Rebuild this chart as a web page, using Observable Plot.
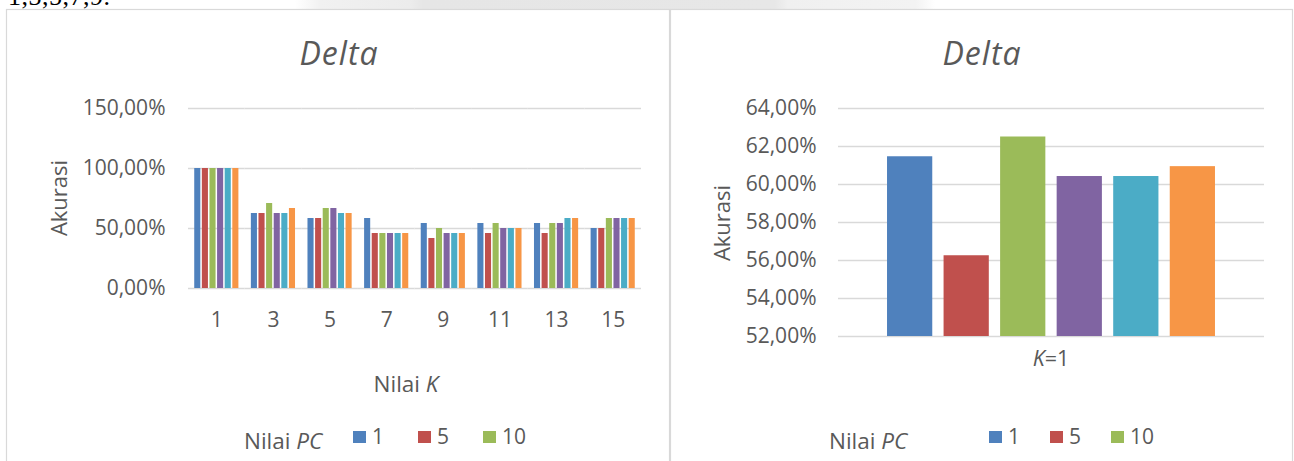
<!DOCTYPE html>
<html>
<head>
<meta charset="utf-8">
<script src="https://cdn.jsdelivr.net/npm/d3@7"></script>
<script src="https://cdn.jsdelivr.net/npm/@observablehq/plot@0.6"></script>
<style>
  html, body { margin: 0; padding: 0; background: #fff; overflow: hidden; }
  #page { position: relative; width: 1294px; height: 461px; overflow: hidden; }
  #page > svg, #page > div { position: absolute; }
</style>
</head>
<body>
<div id="page"></div>
<script>
// ---------- data ----------
const kValues = [1, 3, 5, 7, 9, 11, 13, 15];
const seriesNames = ["1", "5", "10", "15", "20", "25"];
const colors = ["#4F81BD", "#C0504D", "#9BBB59", "#8064A2", "#4BACC6", "#F79646"];

// left chart: accuracy (%) per series across K
const pc1  = [100, 62.5, 58.33, 58.33, 54.17, 54.17, 54.17, 50];
const pc5  = [100, 62.5, 58.33, 45.83, 41.67, 45.83, 45.83, 50];
const pc10 = [100, 70.83, 66.67, 45.83, 50, 54.17, 54.17, 58.33];
const pc15 = [100, 62.5, 66.67, 45.83, 45.83, 50, 54.17, 58.33];
const pc20 = [100, 62.5, 62.5, 45.83, 45.83, 50, 58.33, 58.33];
const pc25 = [100, 66.67, 62.5, 45.83, 45.83, 50, 58.33, 58.33];
const leftTicks = [0, 50, 100, 150];

// right chart: K=1
const rightValues = [61.46, 56.25, 62.5, 60.42, 60.42, 60.94];
const rightTicks = [52, 54, 56, 58, 60, 62, 64];

const legendShown = ["1", "5", "10"];

// ---------- build tables ----------
const leftSeries = [pc1, pc5, pc10, pc15, pc20, pc25];
const leftData = [];
leftSeries.forEach((vals, si) => vals.forEach((v, ki) => leftData.push({k: kValues[ki], series: seriesNames[si], value: v})));
const rightData = rightValues.map((v, i) => ({series: seriesNames[i], value: v}));

const pct = d => d.toFixed(2).replace(".", ",") + "%";
const font = "'Open Sans', sans-serif";
const ink = "#595959";
const grid = "#d9d9d9";

// ---------- left chart ----------
const L = {width: 670, height: 340, ml: 188, mr: 29, mt: 108, mb: 52};
const fxInner = 0.22;
const step = (L.width - L.ml - L.mr) / kValues.length;
const half = step * fxInner / 2;

const leftPlot = Plot.plot({
  width: L.width, height: L.height,
  marginLeft: L.ml, marginRight: L.mr, marginTop: L.mt, marginBottom: L.mb,
  style: {background: "transparent", fontFamily: font, fontSize: "21px", color: ink, overflow: "visible"},
  fx: {domain: kValues, paddingInner: fxInner, paddingOuter: fxInner / 2, round: false, label: null},
  x: {domain: seriesNames, paddingInner: 0.2, paddingOuter: 0, round: false, axis: null},
  y: {domain: [0, 150]},
  color: {domain: seriesNames, range: colors},
  marks: [
    Plot.ruleY(leftTicks, {stroke: grid, strokeWidth: 1.5, insetLeft: -half, insetRight: -half}),
    Plot.barY(leftData, {fx: "k", x: "series", y: "value", fill: "series"}),
    Plot.axisY({ticks: leftTicks, tickSize: 0, tickPadding: 23 + half, tickFormat: pct, fontSize: 21, fill: ink, label: null}),
    Plot.axisFx({anchor: "bottom", tickSize: 0, tickPadding: 24, fontSize: 21, fill: ink, label: null})
  ]
});
leftPlot.style.left = "0px";
leftPlot.style.top = "0px";

// ---------- right chart ----------
const R = {left: 670, width: 624, height: 380, ml: 168, mr: 30, mt: 108, mb: 44};
const rightPlot = Plot.plot({
  width: R.width, height: R.height,
  marginLeft: R.ml, marginRight: R.mr, marginTop: R.mt, marginBottom: R.mb,
  style: {background: "transparent", fontFamily: font, fontSize: "21px", color: ink, overflow: "visible"},
  x: {domain: seriesNames, paddingInner: 0.2, paddingOuter: 0.867, round: false, axis: null},
  y: {domain: [rightTicks[0], rightTicks[rightTicks.length - 1]]},
  color: {domain: seriesNames, range: colors},
  marks: [
    Plot.ruleY(rightTicks, {stroke: grid, strokeWidth: 1.5}),
    Plot.barY(rightData, {x: "series", y1: rightTicks[0], y2: "value", fill: "series"}),
    Plot.axisY({ticks: rightTicks, tickSize: 0, tickPadding: 22, tickFormat: pct, fontSize: 21, fill: ink, label: null})
  ]
});
rightPlot.style.left = R.left + "px";
rightPlot.style.top = "0px";

const page = document.getElementById("page");
page.appendChild(leftPlot);
page.appendChild(rightPlot);

// ---------- overlay: frames, titles, axis titles, legends ----------
const ov = d3.create("svg")
  .attr("width", 1294).attr("height", 461)
  .style("left", "0px").style("top", "0px")
  .style("font-family", font).style("pointer-events", "none");

const defs = ov.append("defs");
const lg = defs.append("linearGradient").attr("id", "wm").attr("x1", "0").attr("x2", "1");
[[0, "#ffffff"], [0.04, "#f1f1f1"], [0.18, "#ececec"], [0.2, "#e6e6e6"], [0.75, "#e7e7e7"], [0.77, "#f0f0f0"], [0.97, "#f3f3f3"], [1, "#ffffff"]]
  .forEach(([o, c]) => lg.append("stop").attr("offset", o).attr("stop-color", c));
ov.append("rect").attr("x", 295).attr("y", 0).attr("width", 640).attr("height", 9).attr("fill", "url(#wm)");

// document text cut at top (as in the reference)
ov.append("text").attr("x", 8).attr("y", 4.5)
  .attr("font-family", "'Liberation Serif', 'Times New Roman', serif")
  .attr("font-size", 26).attr("letter-spacing", 0.5).attr("fill", "#000").text("1,3,5,7,9.");

// panel frames
ov.append("rect").attr("x", 6.5).attr("y", 9.5).attr("width", 663).attr("height", 520)
  .attr("fill", "none").attr("stroke", grid).attr("stroke-width", 1.2);
ov.append("rect").attr("x", 670.5).attr("y", 9.5).attr("width", 622).attr("height", 520)
  .attr("fill", "none").attr("stroke", grid).attr("stroke-width", 1.2);

// titles
[[339, "Delta"], [982, "Delta"]].forEach(([x, t]) => {
  ov.append("text").attr("x", x).attr("y", 65).attr("text-anchor", "middle")
    .attr("font-size", 32).attr("letter-spacing", 1).attr("font-style", "italic").attr("fill", ink).text(t);
});

// y axis titles
[[67, 198], [730, 223]].forEach(([x, y]) => {
  ov.append("text").attr("transform", `translate(${x},${y}) rotate(-90)`)
    .attr("text-anchor", "middle").attr("font-size", 22).attr("fill", ink).text("Akurasi");
});

// x axis titles
const nk = ov.append("text").attr("x", 406).attr("y", 392).attr("text-anchor", "middle")
  .attr("font-size", 22.5).attr("fill", ink);
nk.append("tspan").text("Nilai ");
nk.append("tspan").attr("font-style", "italic").text("K");

const k1 = ov.append("text").attr("x", 1051).attr("y", 366).attr("text-anchor", "middle")
  .attr("font-size", 21.5).attr("fill", ink);
k1.append("tspan").attr("font-style", "italic").text("K");
k1.append("tspan").text("=1");

// legends
function legend(titleX, startX, spacing) {
  const t = ov.append("text").attr("x", titleX).attr("y", 449).attr("font-size", 22.5).attr("fill", ink);
  t.append("tspan").text("Nilai ");
  t.append("tspan").attr("font-style", "italic").text("PC");
  legendShown.forEach((name, i) => {
    const x = startX + i * spacing;
    ov.append("rect").attr("x", x).attr("y", 431).attr("width", 13).attr("height", 12)
      .attr("fill", colors[seriesNames.indexOf(name)]);
    ov.append("text").attr("x", x + 19).attr("y", 444).attr("font-size", 21).attr("fill", ink).text(name);
  });
}
legend(244, 353, 65);
legend(829, 989, 61);

page.appendChild(ov.node());
</script>
</body>
</html>
